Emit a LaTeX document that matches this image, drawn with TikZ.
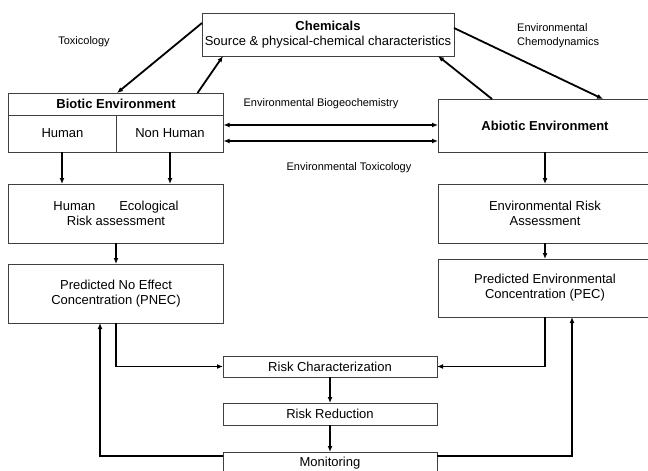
\documentclass[tikz,border=0pt]{standalone}
\usepackage{fontspec}
\setmainfont{Liberation Sans}
\usetikzlibrary{arrows.meta,calc}
\begin{document}
\begin{tikzpicture}[x=1pt,y=-1pt,
  box/.style={draw=black!75, line width=0.8pt, fill=white, inner sep=0pt, outer sep=0pt,
              align=center, font=\fontsize{13pt}{15pt}\selectfont},
  lbl/.style={inner sep=0pt, font=\fontsize{11pt}{14pt}\selectfont},
  conn/.style={line width=1.8pt, -{Latex[length=6pt,width=5pt]}},
  dconn/.style={line width=1.8pt, {Latex[length=6pt,width=5pt]}-{Latex[length=6pt,width=5pt]}}]
\useasboundingbox (0,0) rectangle (648,471);
% boxes
\node[box, minimum width=252pt, minimum height=43pt] (chem) at (328,34.5)
  {\textbf{Chemicals}\\Source \& physical-chemical characteristics};
\node[box, minimum width=215pt, minimum height=22pt] (bt) at (116,104) {\textbf{Biotic Environment}};
\node[box, minimum width=108pt, minimum height=37pt] (hum) at (62.5,133.5) {Human};
\node[box, minimum width=107pt, minimum height=37pt] (nh) at (170,133.5) {Non Human};
\node[box, minimum width=214pt, minimum height=53pt] (ab) at (545,125.5) {\textbf{Abiotic Environment}};
\node[box, minimum width=215pt, minimum height=59pt] (hra) at (116,213.5)
  {Human\hspace{24pt}Ecological\\Risk assessment};
\node[box, minimum width=215pt, minimum height=59pt] (pnec) at (116,293.5)
  {Predicted No Effect\\Concentration (PNEC)};
\node[box, minimum width=214pt, minimum height=59pt] (era) at (545,213.5)
  {Environmental Risk\\Assessment};
\node[box, minimum width=214pt, minimum height=58pt] (pec) at (545,288)
  {Predicted Environmental\\Concentration (PEC)};
\node[box, minimum width=214pt, minimum height=21pt] (rc) at (330,366.5) {Risk Characterization};
\node[box, minimum width=214pt, minimum height=22pt] (rr) at (330,414) {Risk Reduction};
\node[box, minimum width=214pt, minimum height=22pt] (mon) at (330,463) {Monitoring};
% labels
\node[lbl] (ltox) at (84,42) {Toxicology};
\node[lbl] (lbio) at (321,104) {Environmental Biogeochemistry};
\node[lbl] (letox) at (349,168) {Environmental Toxicology};
\node[lbl, anchor=west, align=left] (lchem) at (517,36) {Environmental\\Chemodynamics};
% connectors
\draw[conn] ([yshift=11.5pt]chem.west) -- ([xshift=1pt]bt.north);
\draw[conn] ([xshift=-26pt]bt.north east) -- ([xshift=21pt]chem.south west);
\draw[conn] ([yshift=6.5pt]chem.east) -- ([xshift=58pt]ab.north);
\draw[conn] ([xshift=-53pt]ab.north) -- ([xshift=-16pt]chem.south east);
\coordinate (d1) at ([yshift=8.5pt]nh.east);
\coordinate (d2) at ([yshift=-7.5pt]nh.east);
\draw[dconn] (d1) -- (d1 -| ab.west);
\draw[dconn] (d2) -- (d2 -| ab.west);
\coordinate (hs) at ([xshift=-0.5pt]hum.south);
\draw[conn] (hs) -- (hs |- hra.north);
\draw[conn] (nh.south) -- (nh.south |- hra.north);
\draw[conn] (hra.south) -- (pnec.north);
\draw[conn] (ab.south) -- (era.north);
\draw[conn] (era.south) -- (pec.north);
\draw[conn] (pnec.south) |- (rc.west);
\draw[conn] (pec.south) |- (rc.east);
\draw[conn] (rc.south) -- (rr.north);
\draw[conn] (rr.south) -- (mon.north);
\draw[conn] ([yshift=7pt]mon.west) -| ([xshift=-16pt]pnec.south);
\draw[conn] ([yshift=7pt]mon.east) -| ([xshift=27pt]pec.south);
\end{tikzpicture}
\end{document}
